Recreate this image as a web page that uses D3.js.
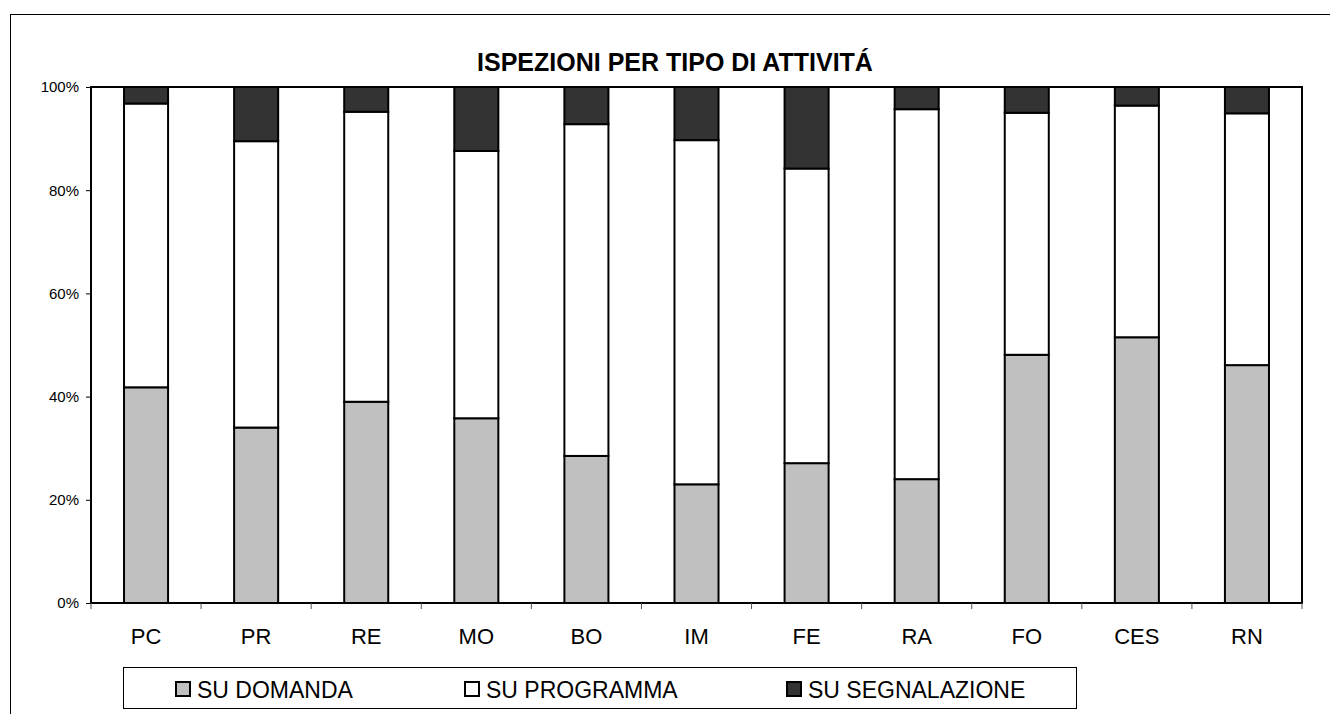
<!DOCTYPE html>
<html>
<head>
<meta charset="utf-8">
<script src="https://cdn.jsdelivr.net/npm/d3@7"></script>
<style>
  body { margin: 0; background: #fff; }
  svg { display: block; font-family: "Liberation Sans", Arial, sans-serif; }
</style>
</head>
<body>
<svg id="main-svg" width="1330" height="714"></svg>
<script>
// province codes
const categories = ['PC', 'PR', 'RE', 'MO', 'BO', 'IM', 'FE', 'RA', 'FO', 'CES', 'RN'];
// share of inspections, percent
const suDomanda      = [41.8, 34.0, 39.0, 35.8, 28.5, 23.0, 27.1, 24.0, 48.1, 51.5, 46.1];
const suProgramma    = [55.0, 55.5, 56.2, 51.8, 64.3, 66.7, 57.1, 71.7, 46.9, 44.9, 48.8];
const suSegnalazione = [ 3.2, 10.5,  4.8, 12.4,  7.2, 10.3, 15.8,  4.3,  5.0,  3.6,  5.1];
const seriesNames = ['SU DOMANDA', 'SU PROGRAMMA', 'SU SEGNALAZIONE'];
const yTicks = [0, 20, 40, 60, 80, 100];

const colors = ['#c0c0c0', '#ffffff', '#333333'];

var svg = d3.select('#main-svg');

// outer chart frame (runs off the page on the right and bottom)
svg.append('rect')
	.attr('x', 10.5).attr('y', 14.5)
	.attr('width', 1340).attr('height', 720)
	.attr('fill', 'none').attr('stroke', '#000').attr('stroke-width', 1);

const plot = { left: 91, right: 1302, top: 87, bottom: 603 };

var x = d3.scaleBand()
	.domain(categories)
	.range([plot.left, plot.right])
	.paddingInner(0.6)
	.paddingOuter(0.3);

var y = d3.scaleLinear()
	.domain([0, 100])
	.range([plot.bottom, plot.top]);

svg.append('text')
	.attr('x', 675).attr('y', 71)
	.attr('text-anchor', 'middle')
	.attr('font-size', 25).attr('font-weight', 'bold')
	.text('ISPEZIONI PER TIPO DI ATTIVITÁ');

// stacked data
var rows = categories.map((c, i) => ({
	cat: c, d: suDomanda[i], p: suProgramma[i], s: suSegnalazione[i]
}));
var stack = d3.stack().keys(['d', 'p', 's'])(rows);

svg.append('g')
	.selectAll('g')
	.data(stack)
	.enter().append('g')
	.attr('fill', (d, i) => colors[i])
	.selectAll('rect')
	.data(d => d)
	.enter().append('rect')
	.attr('x', d => x(d.data.cat))
	.attr('y', d => y(d[1]))
	.attr('width', x.bandwidth())
	.attr('height', d => y(d[0]) - y(d[1]))
	.attr('stroke', '#000')
	.attr('stroke-width', 2);

// plot frame
svg.append('rect')
	.attr('x', plot.left).attr('y', plot.top)
	.attr('width', plot.right - plot.left).attr('height', plot.bottom - plot.top)
	.attr('fill', 'none').attr('stroke', '#000').attr('stroke-width', 2);

// y axis
var yAxis = svg.append('g')
	.attr('transform', `translate(${plot.left},0)`)
	.call(d3.axisLeft(y).tickValues(yTicks).tickSize(5).tickPadding(7).tickFormat(d => d + '%'));
yAxis.select('.domain').remove();
yAxis.selectAll('text')
	.attr('font-size', 15)
	.attr('fill', '#000')
	.attr('font-family', '"Liberation Sans", Arial, sans-serif');

// x axis ticks at band boundaries
var bounds = categories.map(c => x(c) - x.step() * x.paddingInner() / 2).concat([plot.right]);
svg.append('g')
	.selectAll('line')
	.data(bounds)
	.enter().append('line')
	.attr('x1', d => d).attr('x2', d => d)
	.attr('y1', plot.bottom).attr('y2', plot.bottom + 6)
	.attr('stroke', '#555');

svg.append('g')
	.selectAll('text')
	.data(categories)
	.enter().append('text')
	.attr('x', d => x(d) + x.bandwidth() / 2)
	.attr('y', 644)
	.attr('text-anchor', 'middle')
	.attr('font-size', 22)
	.text(d => d);

// legend
svg.append('rect')
	.attr('x', 123.5).attr('y', 667.5)
	.attr('width', 953).attr('height', 41)
	.attr('fill', '#fff').attr('stroke', '#000').attr('stroke-width', 1);

const legendX = [175, 464, 786];
var leg = svg.append('g')
	.selectAll('g')
	.data(seriesNames)
	.enter().append('g')
	.attr('transform', (d, i) => `translate(${legendX[i]},682)`);
leg.append('rect')
	.attr('x', 1).attr('y', 0)
	.attr('width', 14).attr('height', 14)
	.attr('fill', (d, i) => colors[i])
	.attr('stroke', '#000').attr('stroke-width', 2);
leg.append('text')
	.attr('x', 22).attr('y', 15.5)
	.attr('font-size', 23)
	.text(d => d);
</script>
</body>
</html>
